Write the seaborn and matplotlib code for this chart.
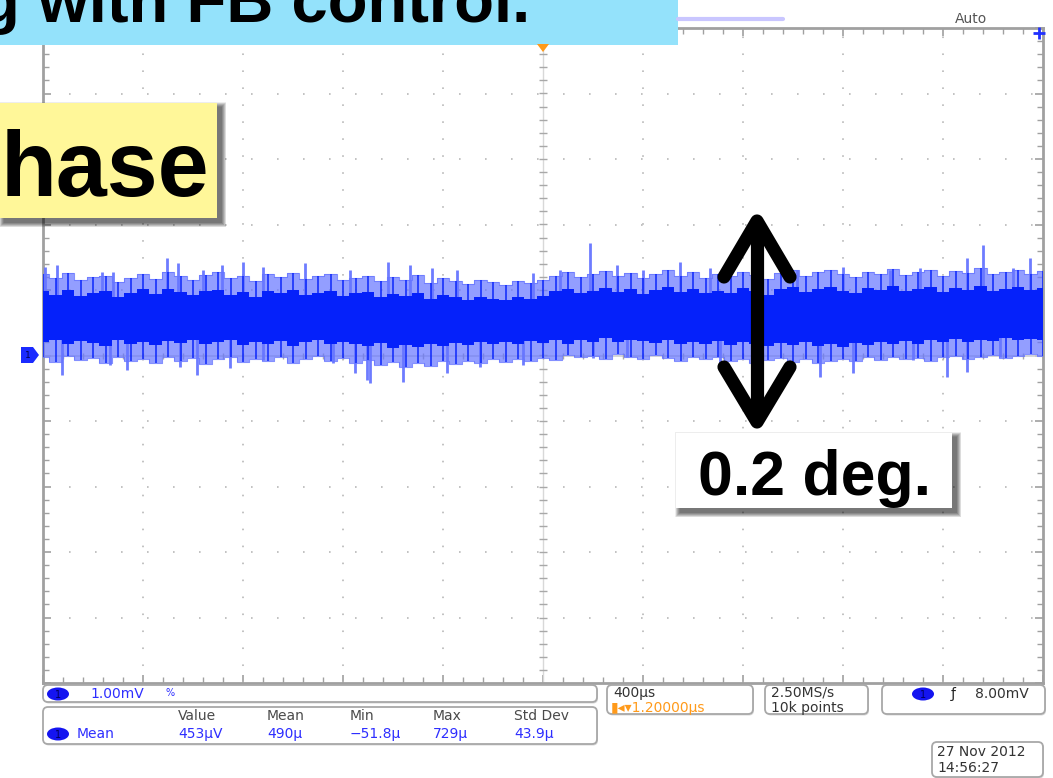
import numpy as np
import matplotlib
matplotlib.use("Agg")
import matplotlib.pyplot as plt
from matplotlib.patches import Rectangle, FancyBboxPatch, Ellipse, Polygon
import seaborn as sns

sns.set_theme(style="white")
plt.rcParams["font.family"] = ["Liberation Sans", "DejaVu Sans"]

# ---- scope settings ----
time_per_div_us = 400.0      # horizontal: 400 us/div, 10 divisions
volt_per_div_mv = 1.0        # vertical: 1.00 mV/div, 10 divisions
n_hdiv, n_vdiv = 10, 10

# ---- trace envelope, sampled every 50 us (level in mV) ----
env_t = list(range(-2000, 2001, 50))
outer_top = [1.24, 1.18, 1.26, 1.15, 1.20, 1.22, 1.12, 1.19, 1.25, 1.17,
             1.28, 1.21, 1.16, 1.23, 1.27, 1.18, 1.22, 1.14, 1.25, 1.20,
             1.26, 1.17, 1.21, 1.24, 1.16,
             1.19, 1.22, 1.13, 1.20, 1.16, 1.23, 1.11, 1.18, 1.14, 1.09,
             1.16, 1.12, 1.08, 1.14, 1.10,
             1.15, 1.22, 1.27, 1.20, 1.24, 1.29, 1.21, 1.26, 1.18, 1.25,
             1.30, 1.22, 1.27, 1.19, 1.24, 1.21, 1.28, 1.23, 1.17, 1.26,
             1.30, 1.22, 1.27, 1.31, 1.24, 1.20, 1.28, 1.25, 1.32, 1.23,
             1.27, 1.30, 1.22, 1.29, 1.26, 1.33, 1.24, 1.28, 1.31, 1.25, 1.29]
core_top = [0.98, 0.93, 1.00, 0.91, 0.96, 0.99, 0.90, 0.95, 1.01, 0.94,
            1.02, 0.97, 0.92, 0.99, 1.00, 0.93, 0.97, 0.90, 0.99, 0.95,
            1.00, 0.92, 0.96, 0.98, 0.91,
            0.95, 0.97, 0.89, 0.94, 0.91, 0.96, 0.87, 0.92, 0.89, 0.85,
            0.90, 0.87, 0.84, 0.89, 0.86,
            0.91, 0.98, 1.02, 0.96, 0.99, 1.03, 0.97, 1.01, 0.94, 1.00,
            1.04, 0.97, 1.02, 0.95, 0.99, 0.96, 1.03, 0.98, 0.93, 1.01,
            1.04, 0.97, 1.02, 1.05, 0.99, 0.95, 1.03, 1.00, 1.06, 0.98,
            1.02, 1.04, 0.97, 1.03, 1.00, 1.06, 0.99, 1.02, 1.05, 1.00, 1.03]
core_bot = [0.20, 0.24, 0.17, 0.22, 0.19, 0.15, 0.23, 0.18, 0.21, 0.16,
            0.22, 0.19, 0.24, 0.17, 0.20, 0.23, 0.16, 0.21, 0.18, 0.22,
            0.15, 0.20, 0.24, 0.18, 0.21,
            0.17, 0.14, 0.19, 0.12, 0.16, 0.13, 0.18, 0.15, 0.19, 0.16,
            0.21, 0.17, 0.20, 0.18, 0.22,
            0.19, 0.23, 0.18, 0.24, 0.21, 0.26, 0.20, 0.24, 0.22, 0.19,
            0.23, 0.17, 0.21, 0.18, 0.22, 0.16, 0.20, 0.17, 0.14, 0.19,
            0.16, 0.20, 0.15, 0.18, 0.13, 0.19, 0.16, 0.21, 0.18, 0.22,
            0.17, 0.23, 0.20, 0.25, 0.21, 0.24, 0.22, 0.26, 0.23, 0.25, 0.24]
outer_bot = [-0.03, -0.10, -0.01, -0.07, -0.04, -0.12, -0.02, -0.08, -0.05, -0.11,
             -0.03, -0.09, -0.04, -0.13, -0.06, -0.02, -0.10, -0.05, -0.08, -0.03,
             -0.11, -0.06, -0.01, -0.09, -0.04,
             -0.12, -0.07, -0.15, -0.10, -0.18, -0.12, -0.16, -0.09, -0.13, -0.08,
             -0.11, -0.06, -0.10, -0.05, -0.08,
             -0.04, -0.07, 0.01, -0.03, 0.00, -0.05, 0.02, -0.02, -0.06, 0.01,
             -0.04, -0.08, -0.03, -0.06, -0.02, -0.09, -0.05, -0.11, -0.07, -0.04,
             -0.10, -0.06, -0.12, -0.08, -0.05, -0.09, -0.03, -0.07, -0.02, -0.06,
             -0.04, -0.08, -0.03, 0.00, -0.05, -0.02, 0.01, -0.04, 0.00, 0.02, -0.01]

# ---- isolated noise excursions ----
spike_up_t = [-1992, -1944, -1764, -1720, -1504, -1460, -1360, -1284, -1200, -1120,
              -952, -772, -620, -532, -444, -344, -40, 68, 188, 296,
              400, 548, 668, 1016, 1200, 1388, 1508, 1696, 1760, 1880, 1948]
spike_up_v = [1.35, 1.38, 1.27, 1.27, 1.49, 1.41, 1.31, 1.38, 1.43, 1.35,
              1.41, 1.31, 1.43, 1.38, 1.34, 1.31, 1.26, 1.31, 1.72, 1.38,
              1.31, 1.43, 1.34, 1.31, 1.35, 1.31, 1.34, 1.49, 1.69, 1.34, 1.49]
spike_dn_t = [-1924, -1732, -1664, -1452, -1384, -1252, -1120, -840, -752, -704,
              -692, -560, -384, -252, -80, 200, 336, 708, 1108, 1240,
              1480, 1616, 1696, 1828]
spike_dn_v = [-0.30, -0.15, -0.22, -0.18, -0.30, -0.19, -0.07, -0.11, -0.27, -0.37,
              -0.42, -0.40, -0.27, -0.18, -0.15, -0.04, -0.02, -0.11, -0.33, -0.27,
              -0.07, -0.33, -0.25, -0.02]

# ---- measurement readouts ----
meas_headers = ["Value", "Mean", "Min", "Max", "Std Dev"]
meas_values = ["453µV", "490µ", "−51.8µ", "729µ", "43.9µ"]

W, H = 1053, 778
fig = plt.figure(figsize=(W / 100, H / 100), dpi=100)
fig.patch.set_facecolor("white")

# graticule area in pixels
gx0, gx1, gy0, gy1 = 43, 1043, 28, 683
ax = fig.add_axes([gx0 / W, (H - gy1) / H, (gx1 - gx0) / W, (gy1 - gy0) / H])
xhalf = time_per_div_us * n_hdiv / 2
yhalf = volt_per_div_mv * n_vdiv / 2
ax.set_xlim(-xhalf, xhalf)
ax.set_ylim(-yhalf, yhalf)
ax.set_facecolor("white")
for s in ax.spines.values():
    s.set_color("#a0a0a0")
    s.set_linewidth(2.0)

ax.set_xticks(np.arange(-xhalf, xhalf + 1, time_per_div_us))
ax.set_xticks(np.arange(-xhalf, xhalf + 1, time_per_div_us / 5), minor=True)
ax.set_yticks(np.arange(-yhalf, yhalf + 0.01, volt_per_div_mv))
ax.set_yticks(np.arange(-yhalf, yhalf + 0.01, volt_per_div_mv / 5), minor=True)
ax.tick_params(which="both", direction="in", top=True, bottom=True, left=True, right=True,
               labelbottom=False, labelleft=False, color="#a0a0a0")
ax.tick_params(which="major", length=6, width=1.2)
ax.tick_params(which="minor", length=4, width=1.0)

# dotted division lines
for yv in np.arange(-yhalf + 1, yhalf, volt_per_div_mv):
    if abs(yv) < 1e-9:
        continue
    ax.plot([-xhalf, xhalf], [yv, yv], color="#bdbdbd", lw=1.3,
            linestyle=(0, (0.9, 13.5)), zorder=1)
for xv in np.arange(-xhalf + time_per_div_us, xhalf, time_per_div_us):
    if abs(xv) < 1e-9:
        continue
    ax.plot([xv, xv], [-yhalf, yhalf], color="#bdbdbd", lw=1.3,
            linestyle=(0, (0.9, 8.5)), zorder=1)

# center axes with tick marks
ax.axhline(0, color="#cfcfcf", lw=1.2, zorder=1)
ax.axvline(0, color="#d8d8d8", lw=1.0, zorder=1)
minor_x = np.arange(-xhalf, xhalf + 1, time_per_div_us / 5)
minor_y = np.arange(-yhalf, yhalf + 0.01, volt_per_div_mv / 5)
ax.plot(minor_x, np.zeros_like(minor_x), linestyle="none", marker="|",
        markersize=5, color="#a8a8a8", zorder=1)
ax.plot(np.zeros_like(minor_y), minor_y, linestyle="none", marker="_",
        markersize=6, color="#a8a8a8", zorder=1)

# trace
light = (0.40, 0.46, 1.0)
core = (0.02, 0.13, 0.98)
ax.fill_between(env_t, outer_bot, outer_top, step="mid", color=light, alpha=0.7,
                lw=0, zorder=3)
sns.lineplot(x=env_t, y=outer_top, ax=ax, color=light, lw=0.8, alpha=0.8,
             drawstyle="steps-mid", zorder=3)
sns.lineplot(x=env_t, y=outer_bot, ax=ax, color=light, lw=0.8, alpha=0.8,
             drawstyle="steps-mid", zorder=3)
mid = 0.55
ax.vlines(spike_up_t, mid, spike_up_v, color=light, lw=2.0, alpha=0.95, zorder=3)
ax.vlines(spike_dn_t, spike_dn_v, mid, color=light, lw=2.0, alpha=0.95, zorder=3)
# saturated streaks reaching into the fainter fringe
ax.vlines(env_t, core_top, outer_top, color=core, lw=1.4, alpha=0.75, zorder=4)
ax.vlines(env_t, outer_bot, core_bot, color=core, lw=1.4, alpha=0.75, zorder=4)
ax.fill_between(env_t, core_bot, core_top, step="mid", color=core, lw=0, zorder=4)
ax.set_xlabel("")
ax.set_ylabel("")

# ---- overlay in pixel coordinates ----
ov = fig.add_axes([0, 0, 1, 1], zorder=10)
ov.set_xlim(0, W)
ov.set_ylim(H, 0)
ov.axis("off")
ov.patch.set_alpha(0)


def soft_shadow(x, y, w, h, off=4, steps=10):
    for k in range(steps):
        g = steps - k
        ov.add_patch(Rectangle((x + off - g * 0.5, y + off - g * 0.5),
                               w + g * 1.0, h + g * 1.0,
                               facecolor="black", edgecolor="none", alpha=0.07, zorder=1))


def badge(cx, cy):
    ov.add_patch(Ellipse((cx, cy), 22, 13, facecolor="#1414f0", edgecolor="none", zorder=6))
    ov.text(cx, cy + 0.5, "1", fontsize=7, color="#000060", ha="center", va="center",
            family="DejaVu Sans", zorder=7)


def panel(x0, y0, x1, y1):
    ov.add_patch(FancyBboxPatch((x0 + 1, y0 + 1.5), x1 - x0, y1 - y0,
                                boxstyle="round,pad=0,rounding_size=5",
                                facecolor="#d8d8d8", edgecolor="none", zorder=4))
    ov.add_patch(FancyBboxPatch((x0, y0), x1 - x0, y1 - y0,
                                boxstyle="round,pad=0,rounding_size=5",
                                facecolor="white", edgecolor="#a8a8a8", lw=1.3, zorder=5))


# title strip
ov.add_patch(Rectangle((0, 0), 678, 45, facecolor="#94e2fb", edgecolor="none", zorder=2))
ov.text(-20, 22, "g with FB control.", fontsize=47, weight="bold", color="black",
        va="baseline", ha="left", zorder=3)

# yellow label
soft_shadow(0, 103, 217, 115)
ov.add_patch(Rectangle((0, 103), 217, 115, facecolor="#fff799", edgecolor="none", zorder=2))
ov.text(1, 196, "hase", fontsize=66, weight="bold", color="black",
        va="baseline", ha="left", zorder=3)

# double arrow
ak = dict(color="black", lw=9.5, solid_capstyle="round", solid_joinstyle="round", zorder=5)
ov.plot([757, 757], [224, 418], **ak)
ov.plot([724, 757, 790], [277, 221, 277], **ak)
ov.plot([724, 757, 790], [367, 422, 367], **ak)

# 0.2 deg. label
soft_shadow(676, 433, 276, 75)
ov.add_patch(Rectangle((676, 433), 276, 75, facecolor="white", edgecolor="none", zorder=2))
ov.text(814, 495, "0.2 deg.", fontsize=45, weight="bold", color="black",
        va="baseline", ha="center", zorder=3)

# top status items
ov.plot([678, 783], [19, 19], color="#c9c6ff", lw=3, zorder=3)
ov.text(955, 19, "Auto", fontsize=10, color="#555555", va="center", ha="left",
        family="DejaVu Sans", zorder=3)
ov.plot([1039], [33], marker="+", markersize=8, mew=2, color="#2030ff", zorder=6)
ov.add_patch(Polygon([[537, 44], [549, 44], [543, 52]], closed=True,
                     facecolor="#ff9a1a", edgecolor="none", zorder=6))
# ground reference marker
ov.add_patch(Polygon([[21, 347], [33, 347], [39, 355], [33, 363], [21, 363]], closed=True,
                     facecolor="#1a2aff", edgecolor="none", zorder=6))
ov.text(28, 355.5, "1", fontsize=6.5, color="#000050", ha="center", va="center",
        family="DejaVu Sans", zorder=7)

# bottom readout panels
blue_txt = "#2e2eff"
dark_txt = "#4a4a4a"
fs = 10
sf = "DejaVu Sans"
panel(43, 685, 597, 702)
badge(58, 694)
ov.text(90, 694, "1.00mV", fontsize=fs, color=blue_txt, va="center", family=sf, zorder=7)
ov.text(166, 693, "%", fontsize=7, color=blue_txt, va="center", family=sf, zorder=7)

panel(43, 707, 597, 744)
hx = [178, 267, 350, 433, 514]
for x, h_, v in zip(hx, meas_headers, meas_values):
    ov.text(x, 716, h_, fontsize=fs, color=dark_txt, va="center", family=sf, zorder=7)
    ov.text(x, 734, v, fontsize=fs, color=blue_txt, va="center", family=sf, zorder=7)
badge(58, 734)
ov.text(77, 734, "Mean", fontsize=fs, color=blue_txt, va="center", family=sf, zorder=7)

panel(607, 685, 753, 714)
ov.text(613, 693, "400µs", fontsize=fs, color="#333333", va="center", family=sf, zorder=7)
ov.text(611, 708, "▮◂▾1.20000µs", fontsize=fs, color="#ff9a1a", va="center", family=sf, zorder=7)

panel(765, 685, 868, 714)
ov.text(771, 693, "2.50MS/s", fontsize=fs, color="#333333", va="center", family=sf, zorder=7)
ov.text(771, 708, "10k points", fontsize=fs, color="#333333", va="center", family=sf, zorder=7)

panel(882, 685, 1045, 714)
badge(923, 694)
ov.text(951, 694, "ƒ", fontsize=fs, color="#222222", va="center", family=sf, zorder=7)
ov.text(975, 694, "8.00mV", fontsize=fs, color="#333333", va="center", family=sf, zorder=7)

panel(932, 742, 1043, 777)
ov.text(937, 752, "27 Nov 2012", fontsize=fs, color="#333333", va="center", family=sf, zorder=7)
ov.text(937, 768, "14:56:27", fontsize=fs, color="#333333", va="center", family=sf, zorder=7)

fig.savefig("out.png", dpi=100, facecolor="white")
